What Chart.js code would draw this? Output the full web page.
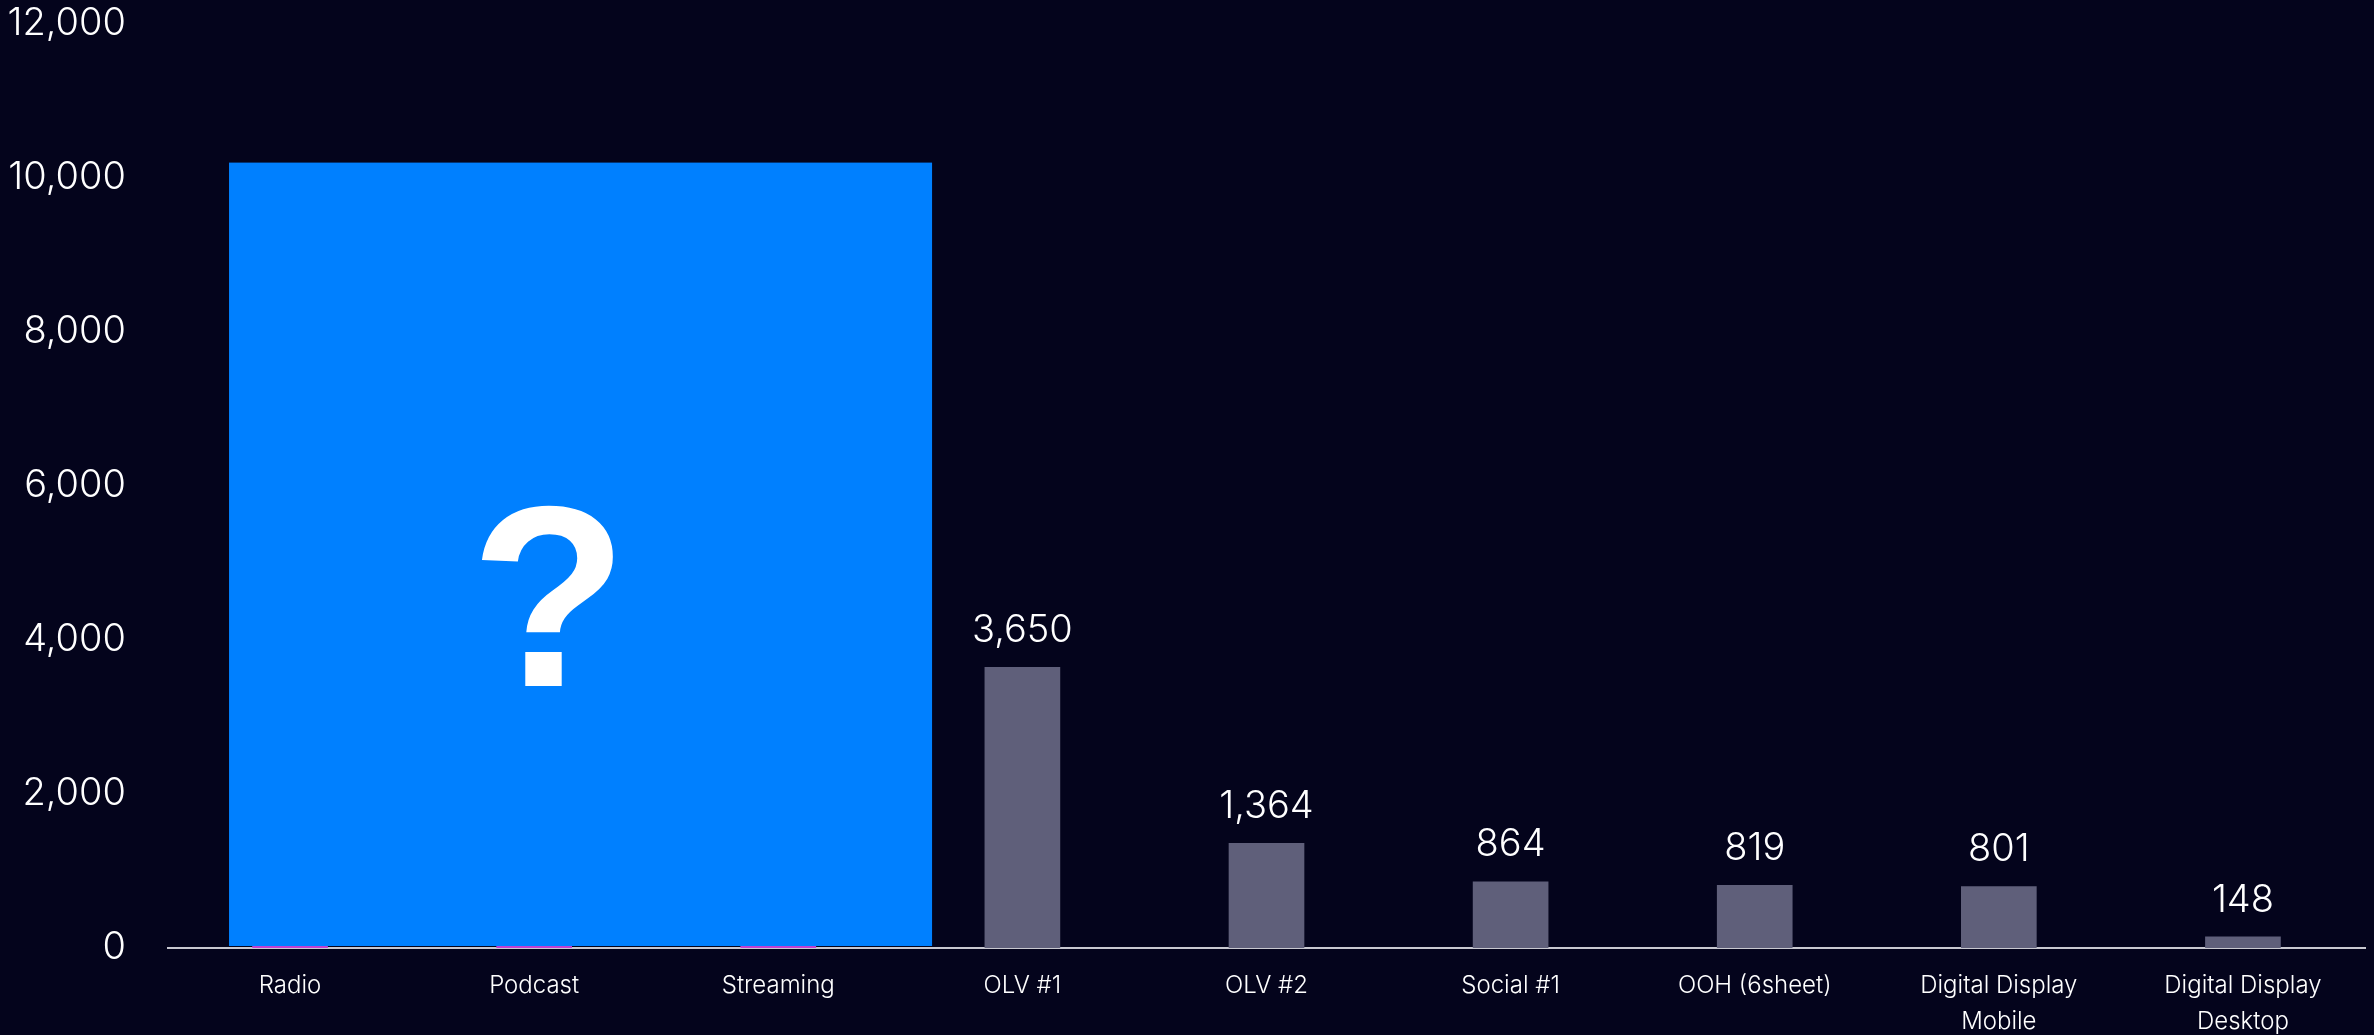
<!DOCTYPE html>
<html>
<head>
<meta charset="utf-8">
<script src="https://cdn.jsdelivr.net/npm/chart.js@4"></script>
<style>
  html, body { margin: 0; padding: 0; background: #04041c; }
  #wrap { width: 2374px; height: 1035px; position: relative; }
</style>
</head>
<body>
<div id="wrap"><canvas id="c"></canvas></div>
<script>
// ---- data ----
const categories = ["Radio", "Podcast", "Streaming", "OLV #1", "OLV #2", "Social #1", "OOH (6sheet)", ["Digital Display", "Mobile"], ["Digital Display", "Desktop"]];
const values = [0, 0, 0, 3650, 1364, 864, 819, 801, 148];
const hiddenFlags = [true, true, true, false, false, false, false, false, false];
const yTicks = [0, 2000, 4000, 6000, 8000, 10000, 12000];
// overlay box covering hidden categories (in category-index units and value units)
const overlayRange = [-0.25, 2.63];
const overlayTop = [10200];
const overlayText = ["?"];

const BG = '#04041c';
const BAR = '#5f5f7a';
const HIDDEN_BAR = '#c040d0';
const BLUE = '#0080ff';
const FONT = "Inter, 'Noto Sans', sans-serif";

const labelPlugin = {
  id: 'valueLabels',
  afterDatasetsDraw(chart) {
    const ctx = chart.ctx;
    const meta = chart.getDatasetMeta(0);
    ctx.save();
    ctx.fillStyle = '#ffffff';
    ctx.font = "300 38px " + FONT;
    ctx.textAlign = 'center';
    ctx.textBaseline = 'alphabetic';
    meta.data.forEach((bar, i) => {
      if (hiddenFlags[i]) return;
      ctx.fillText(values[i].toLocaleString('en-US'), bar.x, bar.y - 25);
    });
    ctx.restore();
  }
};

const overlayPlugin = {
  id: 'overlayBox',
  afterDraw(chart) {
    const ctx = chart.ctx;
    const xs = chart.scales.x, ys = chart.scales.y;
    const left = xs.getPixelForValue(overlayRange[0]);
    const right = xs.getPixelForValue(overlayRange[1]);
    const top = ys.getPixelForValue(overlayTop[0]);
    const bottom = ys.getPixelForValue(0) - 2;
    ctx.save();
    ctx.fillStyle = BLUE;
    ctx.fillRect(left, top, right - left, bottom - top);
    ctx.fillStyle = '#ffffff';
    ctx.font = "bold 258px 'Liberation Sans', Arial, sans-serif";
    ctx.textAlign = 'center';
    ctx.textBaseline = 'alphabetic';
    const cx = left + (right - left) * 0.455;
    ctx.fillText(overlayText[0], cx, 686);
    ctx.restore();
  }
};

const bgPlugin = {
  id: 'bg',
  beforeDraw(chart) {
    const ctx = chart.ctx;
    ctx.save();
    ctx.fillStyle = BG;
    ctx.fillRect(0, 0, chart.width, chart.height);
    ctx.restore();
  }
};

new Chart(document.getElementById('c'), {
  type: 'bar',
  data: {
    labels: categories,
    datasets: [{
      data: values,
      backgroundColor: values.map((v, i) => hiddenFlags[i] ? HIDDEN_BAR : BAR),
      borderWidth: 0,
      minBarLength: 2,
      barPercentage: 0.31,
      categoryPercentage: 1.0
    }]
  },
  options: {
    responsive: true,
    maintainAspectRatio: false,
    animation: false,
    layout: { padding: { top: 24, right: 9, left: 0, bottom: 0 } },
    plugins: {
      legend: { display: false },
      tooltip: { enabled: false }
    },
    scales: {
      x: {
        offset: true,
        grid: { display: false, drawTicks: false },
        border: { display: true, color: '#c8c8d0', width: 2 },
        ticks: {
          color: '#ffffff',
          font: { family: FONT, size: 24, weight: 300, lineHeight: 1.5 },
          padding: 20,
          maxRotation: 0,
          autoSkip: false
        },
        afterFit(scale) { scale.height = 87; scale.paddingLeft = 0; scale.paddingRight = 0; }
      },
      y: {
        min: 0,
        max: 12000,
        afterBuildTicks(scale) { scale.ticks = yTicks.map(v => ({ value: v })); },
        grid: { display: false, drawTicks: false },
        border: { display: false },
        ticks: {
          color: '#ffffff',
          font: { family: FONT, size: 38, weight: 300 },
          padding: 42,
          callback: (v) => v.toLocaleString('en-US')
        },
        afterFit(scale) { scale.width = 168; scale.paddingTop = 0; scale.paddingBottom = 0; }
      }
    }
  },
  plugins: [bgPlugin, labelPlugin, overlayPlugin]
});
</script>
</body>
</html>
